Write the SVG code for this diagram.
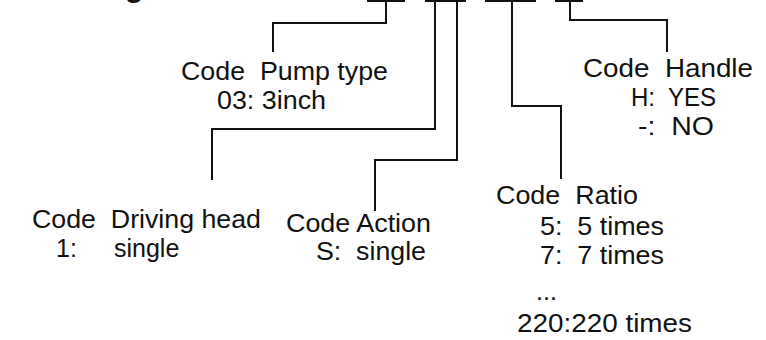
<svg xmlns="http://www.w3.org/2000/svg" width="766" height="340" viewBox="0 0 766 340" xml:space="preserve">
<style>
.t{font-family:"Liberation Sans",Arial,sans-serif;font-size:25px;fill:#111;white-space:pre;}
.c{fill:none;stroke:#111;stroke-width:2;}
</style>
<rect width="766" height="340" fill="#fff"/>
<text x="125" y="-3" font-family="Liberation Sans, Arial, sans-serif" font-weight="bold" font-size="30" fill="#111">g</text>
<g id="connectors" class="c">
<path d="M367,1H405M425,1H466M485,1H536M555,1H583"/>
<path d="M386,0V23H273V52"/>
<path d="M435,0V129H212V180"/>
<path d="M457,0V160H375V211"/>
<path d="M512,0V106H561V179"/>
<path d="M570,0V20H667V52"/>
</g>
<g id="pump-type">
<text class="t" x="181" y="80" textLength="207" lengthAdjust="spacingAndGlyphs">Code  Pump type</text>
<text class="t" x="217" y="109" textLength="109" lengthAdjust="spacingAndGlyphs">03: 3inch</text>
</g>
<g id="handle">
<text class="t" x="583" y="77" textLength="170" lengthAdjust="spacingAndGlyphs">Code  Handle</text>
<text class="t" x="631" y="106" textLength="85" lengthAdjust="spacingAndGlyphs">H:  YES</text>
<text class="t" x="638" y="135" textLength="76" lengthAdjust="spacingAndGlyphs">-:  NO</text>
</g>
<g id="driving-head">
<text class="t" x="32" y="228" textLength="229" lengthAdjust="spacingAndGlyphs">Code  Driving head</text>
<text class="t" y="257"><tspan x="56">1:</tspan><tspan x="114">single</tspan></text>
</g>
<g id="action">
<text class="t" x="286" y="232" textLength="145" lengthAdjust="spacingAndGlyphs">Code Action</text>
<text class="t" x="316" y="260" textLength="110" lengthAdjust="spacingAndGlyphs">S:  single</text>
</g>
<g id="ratio">
<text class="t" x="496" y="204" textLength="142" lengthAdjust="spacingAndGlyphs">Code  Ratio</text>
<text class="t" x="540" y="235" textLength="124" lengthAdjust="spacingAndGlyphs">5:  5 times</text>
<text class="t" x="540" y="264" textLength="124" lengthAdjust="spacingAndGlyphs">7:  7 times</text>
<text class="t" x="536" y="300" textLength="21" lengthAdjust="spacingAndGlyphs">...</text>
<text class="t" x="517" y="332" textLength="175" lengthAdjust="spacingAndGlyphs">220:220 times</text>
</g>
</svg>
